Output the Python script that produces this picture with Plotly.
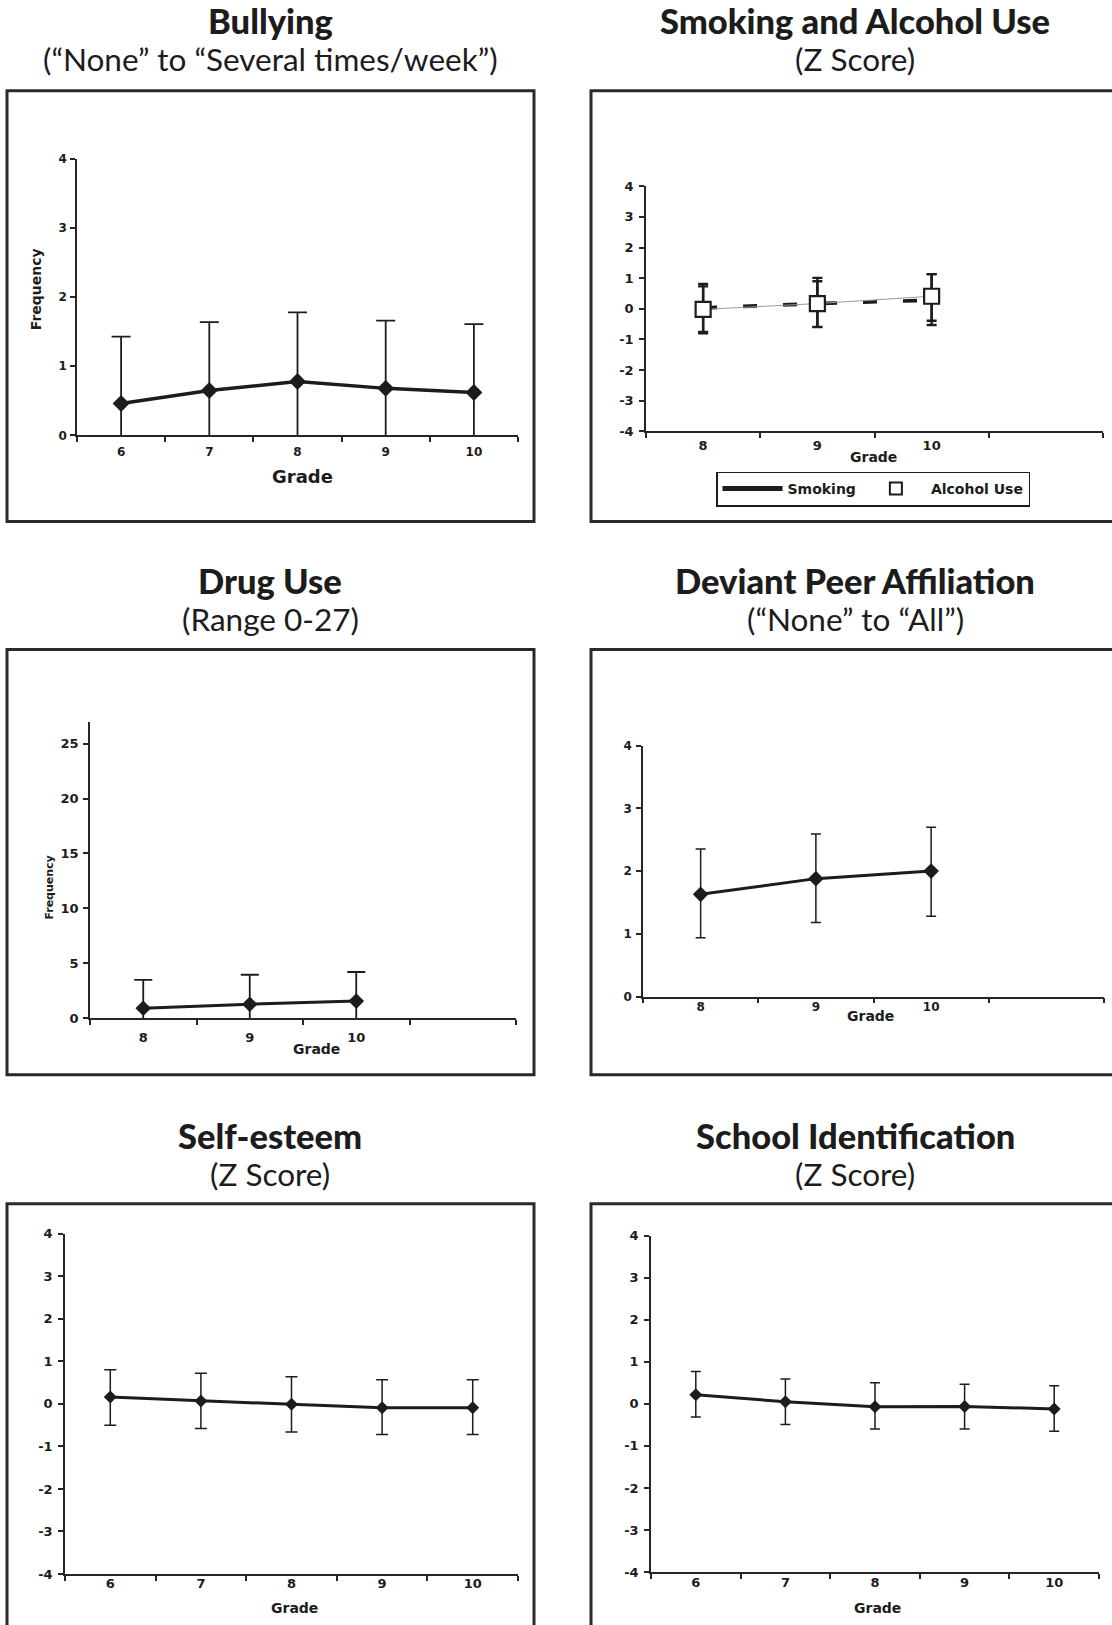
import plotly.graph_objects as go

# ---------------------------------------------------------------- data
grades_6_10 = [6, 7, 8, 9, 10]
grades_8_10 = [8, 9, 10]

bullying_mean = [0.46, 0.65, 0.78, 0.68, 0.62]
bullying_upper = [1.43, 1.64, 1.78, 1.66, 1.61]
bullying_lower = [-0.10, -0.11, -0.11, -0.11, -0.10]

smoking_mean = [0.03, 0.17, 0.28]
smoking_upper = [0.73, 0.90, 1.13]
smoking_lower = [-0.76, -0.59, -0.53]

alcohol_mean = [-0.02, 0.17, 0.41]
alcohol_upper = [0.81, 1.01, 1.13]
alcohol_lower = [-0.80, -0.60, -0.39]

drug_mean = [0.92, 1.29, 1.57]
drug_upper = [3.50, 3.97, 4.22]
drug_lower = [-0.77, -0.80, -0.80]

peer_mean = [1.63, 1.88, 2.00]
peer_upper = [2.35, 2.59, 2.70]
peer_lower = [0.94, 1.18, 1.28]

esteem_mean = [0.16, 0.07, -0.01, -0.09, -0.09]
esteem_upper = [0.80, 0.72, 0.64, 0.57, 0.57]
esteem_lower = [-0.50, -0.58, -0.66, -0.72, -0.72]

school_mean = [0.22, 0.05, -0.07, -0.06, -0.12]
school_upper = [0.77, 0.59, 0.50, 0.47, 0.43]
school_lower = [-0.31, -0.49, -0.60, -0.60, -0.65]

z_ticks = [-4, -3, -2, -1, 0, 1, 2, 3, 4]
freq_ticks = [0, 1, 2, 3, 4]
drug_ticks = [0, 5, 10, 15, 20, 25]

titles = ["Bullying", "Smoking and Alcohol Use", "Drug Use",
          "Deviant Peer Affiliation", "Self-esteem", "School Identification"]
subtitles = ["(\u201cNone\u201d to \u201cSeveral times/week\u201d)", "(Z Score)",
             "(Range 0-27)", "(\u201cNone\u201d to \u201cAll\u201d)", "(Z Score)", "(Z Score)"]

# ---------------------------------------------------------------- page
W, H = 1112, 1625
INK = "#1c1c1c"
AXC = "#262626"
TICKFONT = "DejaVu Sans"
TITLEFONT = "Lato"


def fx(px):
    return px / W


def fy(py):
    return 1 - py / H


def errs(mean, upper, lower):
    return ([u - m for u, m in zip(upper, mean)],
            [m - l for m, l in zip(mean, lower)])


fig = go.Figure()


def add_series(n, x, mean, upper, lower, lw, msize, cap, ethick,
               symbol="diamond", mcolor=INK, mline=0, dash="solid",
               name="", showlegend=False, mode="lines+markers"):
    up, dn = errs(mean, upper, lower)
    suffix = "" if n == 1 else str(n)
    fig.add_trace(go.Scatter(
        x=x, y=mean, mode=mode, name=name, showlegend=showlegend,
        xaxis="x" + suffix, yaxis="y" + suffix, cliponaxis=False,
        line=dict(color=INK, width=lw, dash=dash),
        marker=dict(symbol=symbol, size=msize, color=mcolor,
                    line=dict(color=INK, width=mline)),
        error_y=dict(type="data", symmetric=False, array=up, arrayminus=dn,
                     color=INK, thickness=ethick, width=cap),
    ))


# Bullying
add_series(1, grades_6_10, bullying_mean, bullying_upper, bullying_lower,
           lw=3.5, msize=13, cap=9.5, ethick=1.8)

# Smoking and alcohol use
add_series(2, grades_8_10, smoking_mean, smoking_upper, smoking_lower,
           lw=3.6, msize=1, cap=5, ethick=2.4, dash="14px,26px", mode="lines")
fig.add_trace(go.Scatter(
    x=grades_8_10, y=alcohol_mean, mode="lines", showlegend=False,
    xaxis="x2", yaxis="y2", line=dict(color="#9a9a9a", width=1)))
add_series(2, grades_8_10, alcohol_mean, alcohol_upper, alcohol_lower,
           lw=0, msize=15, cap=5, ethick=2.4, symbol="square",
           mcolor="white", mline=2.2, mode="markers",
           name="Alcohol Use", showlegend=True)
fig.add_trace(go.Scatter(
    x=[None], y=[None], mode="lines", name="Smoking", showlegend=True,
    xaxis="x2", yaxis="y2", line=dict(color=INK, width=3.2)))

# Drug use
add_series(3, grades_8_10, drug_mean, drug_upper, drug_lower,
           lw=3, msize=12, cap=9, ethick=1.8)

# Deviant peer affiliation
add_series(4, grades_8_10, peer_mean, peer_upper, peer_lower,
           lw=3, msize=12, cap=5, ethick=1.5)

# Self-esteem
add_series(5, grades_6_10, esteem_mean, esteem_upper, esteem_lower,
           lw=3, msize=10, cap=6, ethick=1.5)

# School identification
add_series(6, grades_6_10, school_mean, school_upper, school_lower,
           lw=3, msize=10, cap=5, ethick=1.5)

# ---------------------------------------------------------------- axes
panels = [
    # x/y domains in px, ranges, tick values, tick font size, x/y label standoff
    dict(xd=(77, 518), yd=(153.6, 432.3), xr=(5.5, 10.5), xl=grades_6_10,
         yr=(0, 4), yt=freq_ticks, fs=12, so=5, yso=1),
    dict(xd=(646, 1103), yd=(180.9, 428.3), xr=(7.5, 11.5), xl=grades_8_10,
         yr=(-4, 4), yt=z_ticks, fs=13, so=1, yso=3),
    dict(xd=(90, 516), yd=(721.2, 1020.8), xr=(7.5, 11.5), xl=grades_8_10,
         yr=(0, 27), yt=drug_ticks, fs=13, so=6, yso=2),
    dict(xd=(643, 1104), yd=(745.4, 998.9), xr=(7.5, 11.5), xl=grades_8_10,
         yr=(0, 4), yt=freq_ticks, fs=12, so=-2, yso=2),
    dict(xd=(65, 518), yd=(1238.2, 1581.6), xr=(5.5, 10.5), xl=grades_6_10,
         yr=(-4, 4), yt=z_ticks, fs=13, so=-3, yso=3),
    dict(xd=(651, 1099), yd=(1240.2, 1579.6), xr=(5.5, 10.5), xl=grades_6_10,
         yr=(-4, 4), yt=z_ticks, fs=13, so=-2, yso=3),
]

layout_axes = {}
for i, p in enumerate(panels, start=1):
    sfx = "" if i == 1 else str(i)
    lo, hi = p["xr"]
    bounds = [lo + k for k in range(int(hi - lo) + 1)]
    tfont = dict(family=TICKFONT, size=p["fs"], color=INK, weight=700)
    layout_axes["xaxis" + sfx] = dict(
        domain=[fx(p["xd"][0]), fx(p["xd"][1])], range=list(p["xr"]),
        anchor="y" + sfx, tickmode="array", tickvals=p["xl"],
        ticktext=[str(g) for g in p["xl"]], ticks="",
        ticklabelstandoff=p["so"],
        minor=dict(tickmode="array", tickvals=bounds, ticks="outside",
                   ticklen=5, tickwidth=1.5, tickcolor=AXC, showgrid=False),
        showline=True, linecolor=AXC, linewidth=1.5,
        showgrid=False, zeroline=False, tickfont=tfont, fixedrange=True)
    layout_axes["yaxis" + sfx] = dict(
        domain=[fy(p["yd"][1]), fy(p["yd"][0])], range=list(p["yr"]),
        anchor="x" + sfx, tickmode="array", tickvals=p["yt"],
        ticktext=[str(v) for v in p["yt"]], ticklabelstandoff=p["yso"],
        ticks="outside", ticklen=5, tickwidth=1.5, tickcolor=AXC,
        showline=True, linecolor=AXC, linewidth=1.5,
        showgrid=False, zeroline=False, tickfont=tfont, fixedrange=True)

# ---------------------------------------------------------------- frames
boxes = [(7, 84.6, 534, 519.2), (591, 84.6, 1130, 519.2),
         (7, 648.5, 534, 1077.6), (591, 648.5, 1130, 1077.6),
         (7, 1207.9, 534, 1665), (591, 1207.9, 1130, 1665)]
shapes = [dict(type="rect", xref="paper", yref="paper",
               x0=fx(a), x1=fx(c), y0=fy(d), y1=fy(b),
               line=dict(color="#2a2a2a", width=3), layer="below")
          for a, b, c, d in boxes]

# ---------------------------------------------------------------- text
annotations = []
title_pos = [(270, 13.2, 52.7), (855, 13.2, 52.7), (270, 578.5, 617.5),
             (855, 578.5, 617.5), (270, 1139.5, 1177.5), (855, 1139.5, 1177.5)]
for (cx, ty, sy), t, s in zip(title_pos, titles, subtitles):
    annotations.append(dict(
        text=t, x=fx(cx), y=fy(ty), xref="paper", yref="paper",
        showarrow=False, xanchor="center", yanchor="middle",
        font=dict(family=TITLEFONT, size=34.5, color=INK, weight=900)))
    annotations.append(dict(
        text=s, x=fx(cx), y=fy(sy), xref="paper", yref="paper",
        showarrow=False, xanchor="center", yanchor="middle",
        font=dict(family=TITLEFONT, size=31.5, color=INK, weight=400)))

grade_pos = [(302, 473.7, 18), (873, 454.6, 14), (316, 1051.4, 14),
             (870, 1018.1, 14), (294, 1615.9, 14), (877, 1615.9, 14)]
for gx, gy, gs in grade_pos:
    annotations.append(dict(
        text="Grade", x=fx(gx), y=fy(gy), xref="paper", yref="paper",
        showarrow=False, xanchor="center", yanchor="middle",
        font=dict(family=TICKFONT, size=gs, color=INK, weight=700)))

for fxp, fyp, fs in [(36, 284.9, 14), (50, 888.8, 11)]:
    annotations.append(dict(
        text="Frequency", x=fx(fxp), y=fy(fyp), xref="paper", yref="paper",
        showarrow=False, xanchor="center", yanchor="middle", textangle=-90,
        font=dict(family=TICKFONT, size=fs, color=INK, weight=700)))

fig.update_layout(
    width=W, height=H, margin=dict(l=0, r=0, t=0, b=0),
    paper_bgcolor="white", plot_bgcolor="white",
    shapes=shapes, annotations=annotations,
    showlegend=True,
    legend=dict(x=fx(716), y=fy(486.5), xanchor="left", yanchor="middle",
                orientation="h", bordercolor=INK, borderwidth=1.5,
                bgcolor="white", itemwidth=60, traceorder="reversed",
                tracegroupgap=0, itemsizing="constant",
                font=dict(family=TICKFONT, size=14, color=INK, weight=700)),
    **layout_axes,
)

fig.write_html("out.html")
